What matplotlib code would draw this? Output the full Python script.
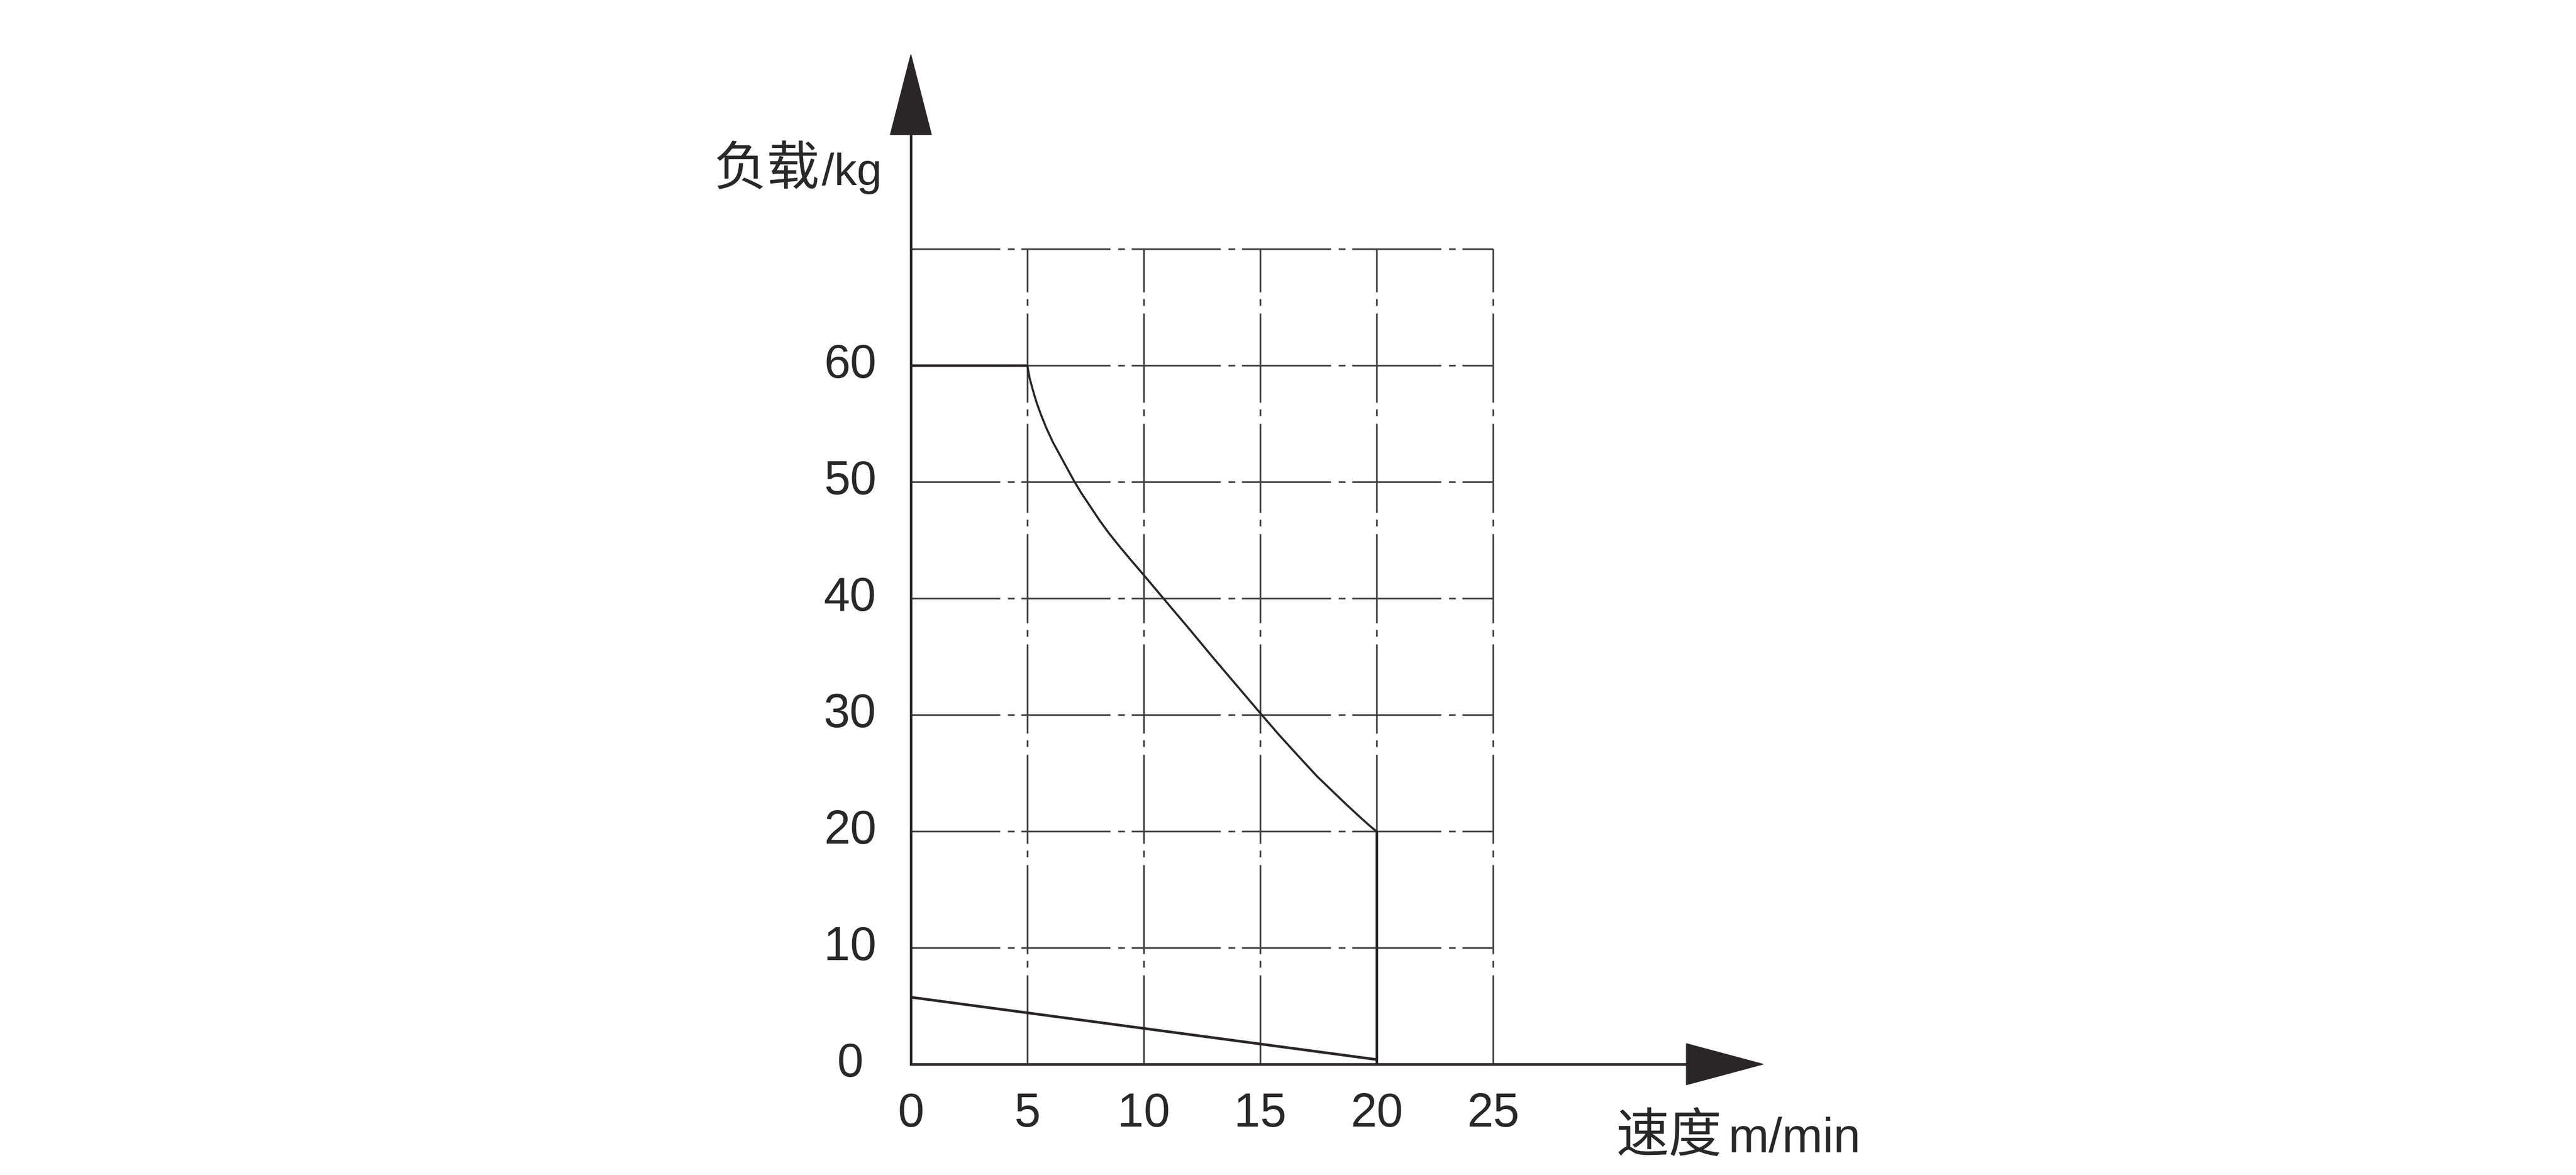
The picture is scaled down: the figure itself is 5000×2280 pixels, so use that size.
import matplotlib
matplotlib.use("Agg")
import matplotlib.pyplot as plt
from matplotlib import font_manager
from matplotlib.patches import Polygon

# ---------------- data ----------------
speed_ticks = [0, 5, 10, 15, 20, 25]
load_ticks = [0, 10, 20, 30, 40, 50, 60]
grid_speed = [5, 10, 15, 20, 25]
grid_load = [10, 20, 30, 40, 50, 60, 70]

flat_speed = [0, 5]
flat_load = [60, 60]

curve_speed = [5.0, 5.1, 5.25, 5.4, 5.6, 5.8, 6.1, 6.4, 6.7, 7.0, 7.3, 7.7,
               8.1, 8.5, 8.9, 9.4, 10.0, 10.4, 10.8, 11.2, 11.9, 13.0, 14.0,
               15.0, 15.8, 16.55, 17.45, 18.7, 19.35, 19.8, 20.0]
curve_load = [60.0, 58.9, 57.8, 56.8, 55.7, 54.7, 53.4, 52.3, 51.2, 50.1, 49.1,
              47.9, 46.7, 45.6, 44.6, 43.4, 42.0, 41.05, 40.1, 39.15, 37.5,
              34.85, 32.5, 30.15, 28.3, 26.65, 24.7, 22.3, 21.1, 20.3, 20.0]

drop_speed = [20, 20]
drop_load = [20, 0]

low_speed = [0, 20]
low_load = [5.75, 0.4]

y_label_cjk = "负载"
y_label_unit = "/kg"
x_label_cjk = "速度"
x_label_unit = "m/min"

# ---------------- style ----------------
plt.rcParams["lines.scale_dashes"] = False
DARK = "#2a2526"
GRID = "#444444"
TEXT = "#2a2727"
DIGIT_FONT = "Liberation Sans"
CJK_FONT = "Noto Sans CJK SC"

names = {f.name for f in font_manager.fontManager.ttflist}
if "Liberation Sans Narrow" in names:
    unit_font, unit_size = "Liberation Sans Narrow", 84
else:
    unit_font, unit_size = "Liberation Sans", 68

fig = plt.figure(figsize=(50, 22.8), dpi=100)
fig.patch.set_facecolor("white")

# plot region: speed 0..25, load 0..70
ax = fig.add_axes([1768 / 5000, 215 / 2280, 1130 / 5000, 1582 / 2280])
ax.set_xlim(0, 25)
ax.set_ylim(0, 70)
ax.axis("off")

dashdot = (0, (124.5, 10.8, 9.4, 9.4))

for gx in grid_speed:
    ax.plot([gx, gx], [0, 70], ls=dashdot, lw=2.4, color=GRID, zorder=1,
            clip_on=False)
for gy in grid_load:
    ax.plot([0, 25], [gy, gy], ls=dashdot, lw=2.4, color=GRID, zorder=1,
            clip_on=False)

# axes lines with arrowheads
y_tip, y_base, y_half = 86.7, 79.8, 0.885
x_tip, x_base, x_half = 36.6, 33.3, 1.77
ax.plot([0, 0], [0, y_base + 0.3], lw=3.5, color=DARK,
        solid_capstyle="projecting", clip_on=False, zorder=3)
ax.plot([0, x_base + 0.15], [0, 0], lw=3.6, color=DARK,
        solid_capstyle="projecting", clip_on=False, zorder=3)
ax.add_patch(Polygon([[0, y_tip], [-y_half, y_base], [y_half, y_base]],
                     closed=True, color=DARK, clip_on=False, zorder=4))
ax.add_patch(Polygon([[x_tip, 0], [x_base, x_half], [x_base, -x_half]],
                     closed=True, color=DARK, clip_on=False, zorder=4))

# data lines
ax.plot(flat_speed, flat_load, lw=3.3, color=DARK, zorder=3,
        solid_capstyle="butt")
ax.plot(curve_speed, curve_load, lw=2.9, color=DARK, zorder=3,
        solid_joinstyle="round", solid_capstyle="round")
ax.plot(drop_speed, drop_load, lw=3.5, color=DARK, zorder=3,
        solid_capstyle="butt")
ax.plot(low_speed, low_load, lw=3.7, color=DARK, zorder=3,
        solid_capstyle="butt")

# tick labels
for v in speed_ticks:
    ax.text(v, -4.3, str(v), ha="center", va="center", fontsize=66,
            family=DIGIT_FONT, color=TEXT, clip_on=False)
for v in load_ticks:
    ax.text(-2.61, v, str(v), ha="center", va="center", fontsize=66,
            family=DIGIT_FONT, color=TEXT, clip_on=False)

# axis titles
ax.text(-8.47, 75.5, y_label_cjk, ha="left", va="baseline", fontsize=74,
        family=[CJK_FONT], color=TEXT, clip_on=False)
ax.text(-3.83, 75.5, y_label_unit, ha="left", va="baseline", fontsize=63,
        family=DIGIT_FONT, color=TEXT, clip_on=False)
ax.text(30.29, -7.55, x_label_cjk, ha="left", va="baseline", fontsize=74,
        family=[CJK_FONT], color=TEXT, clip_on=False)
ax.text(35.1, -7.55, x_label_unit, ha="left", va="baseline",
        fontsize=unit_size, family=unit_font, color=TEXT, clip_on=False)

fig.savefig("out.png", dpi=100, facecolor="white")
